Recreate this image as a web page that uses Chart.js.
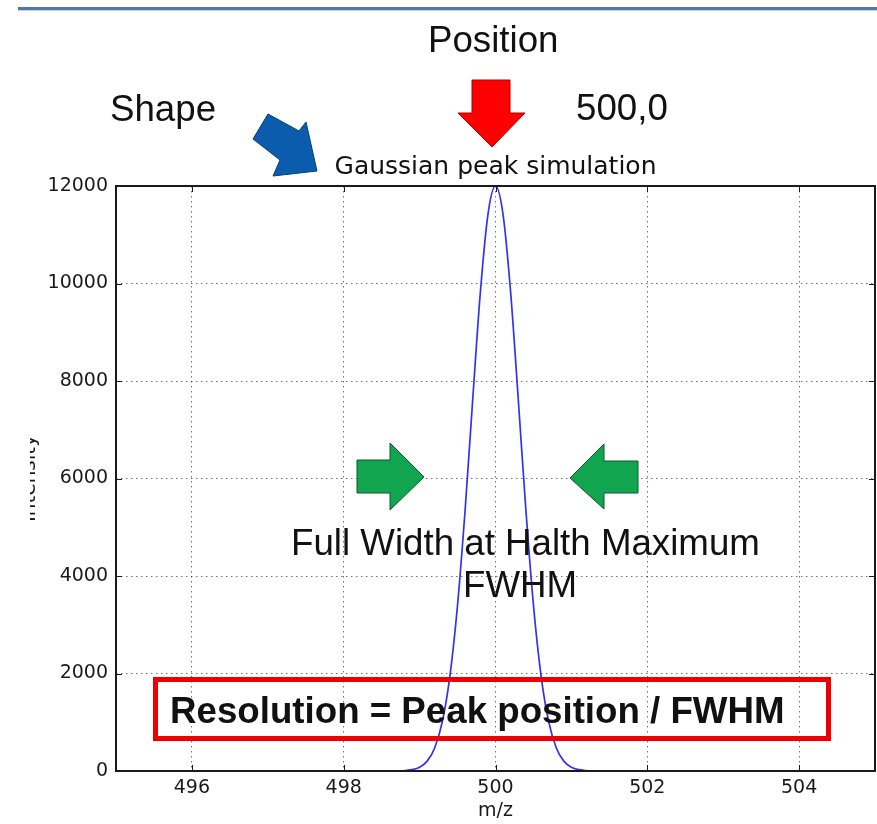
<!DOCTYPE html>
<html>
<head>
<meta charset="utf-8">
<script src="https://cdn.jsdelivr.net/npm/chart.js@4"></script>
<style>
html,body{margin:0;padding:0;background:#fff}
canvas{display:block}
</style>
</head>
<body>
<canvas id="c" width="877" height="824"></canvas>
<script>
// ---- data ----
const mzValues = [498.8, 498.9, 499.0, 499.1, 499.2, 499.3, 499.4, 499.5, 499.6, 499.7, 499.8, 499.9, 500.0,
                  500.1, 500.2, 500.3, 500.4, 500.5, 500.6, 500.7, 500.8, 500.9, 501.0, 501.1, 501.2];
const intensityValues = [8, 27, 78, 203, 478, 1017, 1957, 3406, 5359, 7626, 9810, 11410, 12000,
                         11410, 9810, 7626, 5359, 3406, 1957, 1017, 478, 203, 78, 27, 8];
const xTickValues = [496, 498, 500, 502, 504];
const yTickValues = [0, 2000, 4000, 6000, 8000, 10000, 12000];
const xRange = [495, 505];
const yRange = [0, 12000];
const chartTitle = 'Gaussian peak simulation';
const xAxisTitle = 'm/z';
const yAxisTitle = 'Intensity';
const labelPosition = 'Position';
const labelShape = 'Shape';
const labelPeakValue = '500,0';
const labelFwhmLong = 'Full Width at Halth Maximum';
const labelFwhmShort = 'FWHM';
const labelResolution = 'Resolution = Peak position / FWHM';

const points = mzValues.map((m, i) => ({x: m, y: intensityValues[i]}));
const tickFont = {family: '"DejaVu Sans", sans-serif', size: 19};
const bigFont = '36.7px "Liberation Sans", Arial, sans-serif';
const bigBold = 'bold 36.7px "Liberation Sans", Arial, sans-serif';

function poly(ctx, pts, fill, stroke) {
  ctx.beginPath();
  ctx.moveTo(pts[0][0], pts[0][1]);
  for (let i = 1; i < pts.length; i++) ctx.lineTo(pts[i][0], pts[i][1]);
  ctx.closePath();
  ctx.fillStyle = fill; ctx.fill();
  ctx.lineWidth = 1; ctx.strokeStyle = stroke; ctx.stroke();
}

const overlay = {
  id: 'overlay',
  beforeDraw(chart) {
    const ctx = chart.ctx;
    ctx.save(); ctx.fillStyle = '#fff'; ctx.fillRect(0, 0, chart.width, chart.height); ctx.restore();
  },
  afterDraw(chart) {
    const ctx = chart.ctx, a = chart.chartArea;
    const xs = chart.scales.x, ys = chart.scales.y;
    ctx.save();
    // inward tick marks
    ctx.strokeStyle = '#1a1a1a'; ctx.lineWidth = 1;
    ctx.beginPath();
    xs.ticks.forEach(t => {
      const p = Math.round(xs.getPixelForValue(t.value)) + 0.5;
      ctx.moveTo(p, a.bottom); ctx.lineTo(p, a.bottom - 6);
      ctx.moveTo(p, a.top); ctx.lineTo(p, a.top + 6);
    });
    ys.ticks.forEach(t => {
      const p = Math.round(ys.getPixelForValue(t.value)) + 0.5;
      ctx.moveTo(a.left, p); ctx.lineTo(a.left + 6, p);
      ctx.moveTo(a.right, p); ctx.lineTo(a.right - 6, p);
    });
    ctx.stroke();
    // frame
    ctx.lineWidth = 2; ctx.strokeStyle = '#1a1a1a';
    ctx.strokeRect(a.left, a.top, a.right - a.left, a.bottom - a.top);
    // cropped left edge (y title partly cut off)
    ctx.fillStyle = '#fff'; ctx.fillRect(0, 300, 30, 400);
    // top rule
    ctx.fillStyle = '#4f78a3'; ctx.fillRect(18, 7, 859, 3);
    ctx.fillStyle = '#c3d3e3'; ctx.fillRect(18, 10, 859, 1);
    // arrows
    poly(ctx, [[472,80],[510,80],[510,113],[525,113],[492,147],[458,113],[472,113]], '#ff0000', '#b00000');
    poly(ctx, [[268,114],[299,131],[306,122],[317,171],[273,176],[280,160],[253,139]], '#0b5cad', '#083e78');
    poly(ctx, [[357,460],[390,460],[390,443],[424,477],[390,510],[390,493],[357,493]], '#12a54f', '#0b5a2c');
    poly(ctx, [[638,461],[604,461],[604,444],[570,478],[604,509],[604,493],[638,493]], '#12a54f', '#0b5a2c');
    // texts
    ctx.fillStyle = '#111'; ctx.textAlign = 'left'; ctx.textBaseline = 'alphabetic';
    ctx.font = bigFont;
    ctx.fillText(labelPosition, 428, 52);
    ctx.fillText(labelShape, 110, 121);
    ctx.fillText(labelPeakValue, 576, 120);
    ctx.fillText(labelFwhmLong, 291, 555);
    ctx.fillText(labelFwhmShort, 463, 597);
    ctx.font = bigBold;
    ctx.fillText(labelResolution, 170, 723);
    // red box
    ctx.strokeStyle = '#ee0000'; ctx.lineWidth = 5;
    ctx.strokeRect(155.5, 679.5, 673, 59);
    ctx.restore();
  }
};

new Chart(document.getElementById('c'), {
  type: 'line',
  data: {
    datasets: [{
      data: points,
      borderColor: 'rgb(50,50,240)',
      borderWidth: 1.7,
      pointRadius: 0,
      fill: false,
      cubicInterpolationMode: 'monotone'
    }]
  },
  options: {
    responsive: false,
    animation: false,
    devicePixelRatio: 1,
    layout: {padding: {left: 0, right: 2, top: 0, bottom: 0}},
    plugins: {
      legend: {display: false},
      tooltip: {enabled: false},
      title: {
        display: true, text: chartTitle, color: '#111', fullSize: false,
        font: {family: '"DejaVu Sans", sans-serif', size: 25, weight: 'normal'},
        padding: {top: 152, bottom: 4}
      }
    },
    scales: {
      x: {
        type: 'linear', min: xRange[0], max: xRange[1],
        afterBuildTicks: s => { s.ticks = xTickValues.map(v => ({value: v})); },
        afterFit: s => { s.height = 53; },
        ticks: {font: tickFont, color: '#1a1a1a', padding: 6, maxRotation: 0, callback: v => String(v)},
        grid: {color: 'rgba(0,0,0,0.55)', lineWidth: 1, drawTicks: false},
        border: {display: false, dash: [1.5, 3.5]},
        title: {display: true, text: xAxisTitle, color: '#1a1a1a', font: tickFont, padding: {top: 0, bottom: 2}}
      },
      y: {
        type: 'linear', min: yRange[0], max: yRange[1],
        afterBuildTicks: s => { s.ticks = yTickValues.map(v => ({value: v})); },
        afterFit: s => { s.width = 116; },
        ticks: {font: tickFont, color: '#1a1a1a', padding: 8, callback: v => String(v)},
        grid: {color: 'rgba(0,0,0,0.55)', lineWidth: 1, drawTicks: false},
        border: {display: false, dash: [1.5, 3.5]},
        title: {display: true, text: yAxisTitle, color: '#1a1a1a',
                font: {family: '"DejaVu Sans", sans-serif', size: 20}, padding: {top: 17.6, bottom: 0}}
      }
    }
  },
  plugins: [overlay]
});
</script>
</body>
</html>
